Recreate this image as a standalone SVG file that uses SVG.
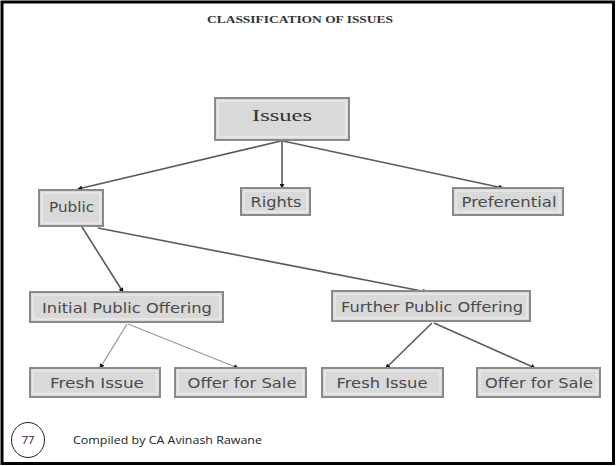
<svg xmlns="http://www.w3.org/2000/svg" width="616" height="466" viewBox="0 0 616 466">
<defs>
<marker id="ah" viewBox="0 0 6 6" refX="5" refY="3" markerWidth="5" markerHeight="5" orient="auto" markerUnits="userSpaceOnUse">
<path d="M0,0 L6,3 L0,6 z" fill="#111"/>
</marker>
</defs>
<style>
.box{fill:#d9d9d9;stroke:#8a8a8a;stroke-width:2}
.inner{fill:none;stroke:#f2f2f2;stroke-width:1}
.lbl{font-family:"DejaVu Sans",Verdana,sans-serif;font-size:13.5px;fill:#4a4a4a;text-anchor:middle}
.conn{stroke:#5a5a5a;stroke-width:1.6;fill:none;marker-end:url(#ah)}
.conn2{stroke:#999;stroke-width:1.3;fill:none;marker-end:url(#ah)}
</style>
<rect x="0" y="0" width="616" height="466" fill="#fff"/>
<rect x="2" y="2" width="611.5" height="461.5" fill="none" stroke="#000" stroke-width="3"/>
<text x="300" y="23" font-family="Liberation Serif, serif" font-weight="bold" font-size="10.5" fill="#333" text-anchor="middle" textLength="186" lengthAdjust="spacingAndGlyphs">CLASSIFICATION OF ISSUES</text>
<g id="connectors">
<path class="conn" d="M281,141 L78,189"/>
<path class="conn" d="M282,141 L282,188"/>
<path class="conn" d="M283,141 L503,188"/>
<path class="conn" d="M82,227 L123,292"/>
<path class="conn" d="M98,228 L427,292"/>
<path class="conn2" d="M127,324 L100,368"/>
<path class="conn2" d="M128,324 L238,368"/>
<path class="conn" d="M432,323 L386,368"/>
<path class="conn" d="M434,323 L535,368"/>
</g>
<g id="n-issues"><rect class="box" x="215" y="98" width="134" height="42"/><rect class="inner" x="218" y="101" width="128" height="36"/><text class="lbl" x="282" y="121" style="font-family:'Liberation Serif',serif;font-size:16px;fill:#333" textLength="60" lengthAdjust="spacingAndGlyphs">Issues</text></g>
<g id="n-public"><rect class="box" x="39" y="190" width="64" height="36"/><rect class="inner" x="42" y="193" width="58" height="30"/><text class="lbl" x="71.5" y="212" textLength="45" lengthAdjust="spacingAndGlyphs">Public</text></g>
<g id="n-rights"><rect class="box" x="241" y="188" width="69" height="27"/><rect class="inner" x="244" y="191" width="63" height="21"/><text class="lbl" x="276" y="207" textLength="51" lengthAdjust="spacingAndGlyphs">Rights</text></g>
<g id="n-pref"><rect class="box" x="453" y="188" width="110" height="27"/><rect class="inner" x="456" y="191" width="104" height="21"/><text class="lbl" x="509" y="207" textLength="95" lengthAdjust="spacingAndGlyphs">Preferential</text></g>
<g id="n-ipo"><rect class="box" x="30" y="292" width="193" height="30"/><rect class="inner" x="33" y="295" width="187" height="24"/><text class="lbl" x="127" y="313" textLength="170" lengthAdjust="spacingAndGlyphs">Initial Public Offering</text></g>
<g id="n-fpo"><rect class="box" x="332" y="291" width="198" height="30"/><rect class="inner" x="335" y="294" width="192" height="24"/><text class="lbl" x="432" y="312" textLength="182" lengthAdjust="spacingAndGlyphs">Further Public Offering</text></g>
<g id="n-fresh1"><rect class="box" x="30" y="368" width="130" height="29"/><rect class="inner" x="33" y="371" width="124" height="23"/><text class="lbl" x="97" y="388" textLength="94" lengthAdjust="spacingAndGlyphs">Fresh Issue</text></g>
<g id="n-ofs1"><rect class="box" x="175" y="368" width="131" height="29"/><rect class="inner" x="178" y="371" width="125" height="23"/><text class="lbl" x="242" y="388" textLength="109" lengthAdjust="spacingAndGlyphs">Offer for Sale</text></g>
<g id="n-fresh2"><rect class="box" x="322" y="368" width="121" height="29"/><rect class="inner" x="325" y="371" width="115" height="23"/><text class="lbl" x="382" y="388" textLength="91" lengthAdjust="spacingAndGlyphs">Fresh Issue</text></g>
<g id="n-ofs2"><rect class="box" x="477" y="368" width="123" height="29"/><rect class="inner" x="480" y="371" width="117" height="23"/><text class="lbl" x="539" y="388" textLength="108" lengthAdjust="spacingAndGlyphs">Offer for Sale</text></g>
<g id="footer">
<ellipse cx="28" cy="440" rx="16.5" ry="17.5" fill="none" stroke="#222" stroke-width="1"/>
<text x="28" y="444" font-family="Open Sans, sans-serif" font-size="11" fill="#222" text-anchor="middle">77</text>
<text x="73" y="444" font-family="Open Sans, sans-serif" font-size="11.5" fill="#222" textLength="189" lengthAdjust="spacingAndGlyphs">Compiled by CA Avinash Rawane</text>
</g>
</svg>
